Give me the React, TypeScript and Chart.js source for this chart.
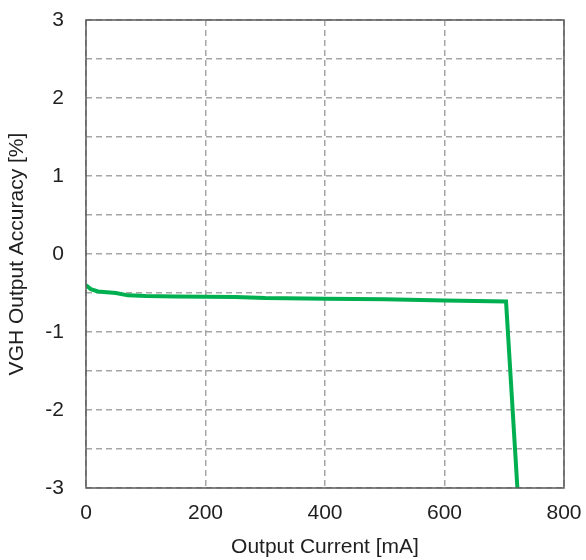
import React, { useEffect, useRef } from "react";
import { Chart, registerables } from "chart.js";

Chart.register(...registerables);

// Output current [mA] vs. VGH output accuracy [%]
const currentMA = [0, 8, 20, 35, 50, 70, 100, 150, 250, 300, 400, 500, 600, 703, 722];
const accuracyPct = [-0.4, -0.45, -0.48, -0.49, -0.5, -0.53, -0.54, -0.545, -0.55, -0.565, -0.575, -0.58, -0.595, -0.61, -3.0];

const xTicks = [0, 200, 400, 600, 800];
const yTicks = [-3, -2, -1, 0, 1, 2, 3];

const FONT = "'Liberation Sans', Arial, sans-serif";
const TEXT = "#1f1f1f";
const SIZE = 21;

const frame = {
  id: "frame",
  afterDraw(chart: any) {
    const { ctx, chartArea: a } = chart;
    ctx.save();
    ctx.strokeStyle = "#595959";
    ctx.lineWidth = 1.5;
    ctx.strokeRect(a.left, a.top, a.right - a.left, a.bottom - a.top);
    ctx.restore();
  },
};

export default function App() {
  const ref = useRef<HTMLCanvasElement>(null);

  useEffect(() => {
    document.body.style.margin = "0";
    const chart = new Chart(ref.current!, {
      type: "line",
      data: {
        datasets: [
          {
            data: currentMA.map((x, i) => ({ x, y: accuracyPct[i] })),
            borderColor: "#00b050",
            borderWidth: 4,
            pointRadius: 0,
            tension: 0,
          },
        ],
      },
      options: {
        animation: false,
        responsive: false,
        layout: { padding: { top: 20, right: 0, left: 0, bottom: 0 } },
        plugins: { legend: { display: false }, tooltip: { enabled: false } },
        scales: {
          x: {
            type: "linear",
            min: 0,
            max: 800,
            afterBuildTicks: (s: any) => {
              s.ticks = xTicks.map((v) => ({ value: v }));
            },
            afterFit: (s: any) => {
              s.height = 72;
              s.paddingRight = 22;
              s.paddingLeft = 0;
            },
            ticks: { color: TEXT, font: { family: FONT, size: SIZE }, padding: 13, maxRotation: 0 },
            grid: {
              drawTicks: false,
              color: "#a6a6a6",
              lineWidth: 1.5,
            },
            border: { display: false, dash: [6, 4] },
            title: {
              display: true,
              text: "Output Current [mA]",
              color: TEXT,
              font: { family: FONT, size: SIZE },
              padding: { top: 3, bottom: 0 },
            },
          },
          y: {
            type: "linear",
            min: -3,
            max: 3,
            afterBuildTicks: (s: any) => {
              const t = [];
              for (let v = -3; v <= 3.001; v += 0.5) t.push({ value: Math.round(v * 2) / 2 });
              s.ticks = t;
            },
            afterFit: (s: any) => {
              s.width = 86;
              s.paddingTop = 0;
              s.paddingBottom = 0;
            },
            ticks: {
              color: TEXT,
              font: { family: FONT, size: SIZE },
              padding: 22,
              callback: (v: any) => (yTicks.includes(Number(v)) ? String(v) : ""),
            },
            grid: {
              drawTicks: false,
              color: "#a6a6a6",
              lineWidth: 1.5,
            },
            border: { display: false, dash: [6, 4] },
            title: {
              display: true,
              text: "VGH Output Accuracy [%]",
              color: TEXT,
              font: { family: FONT, size: SIZE },
              padding: { top: 5, bottom: 0 },
            },
          },
        },
      },
      plugins: [frame],
    });
    return () => chart.destroy();
  }, []);

  return (
    <div style={{ position: "absolute", left: 0, top: 0, width: 586, height: 560, background: "#fff" }}>
      <canvas ref={ref} width={586} height={560} />
    </div>
  );
}
